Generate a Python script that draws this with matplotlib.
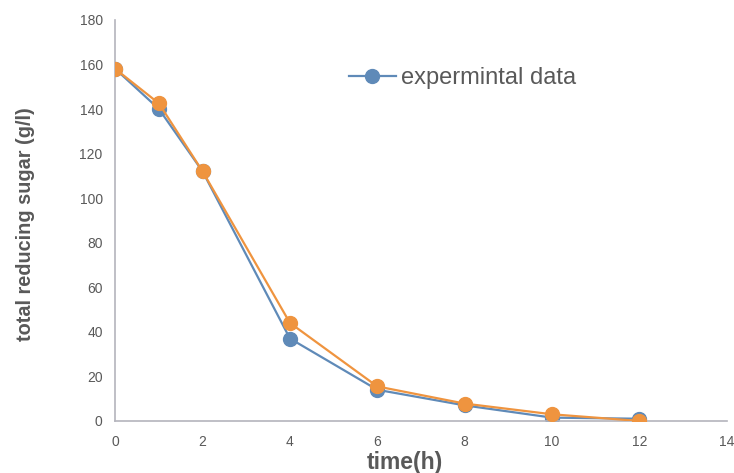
import matplotlib.pyplot as plt

time_h = [0, 1, 2, 4, 6, 8, 10, 12]
exp_sugar = [158, 140, 112, 37, 14, 7, 1.5, 1]
model_sugar = [158, 142.5, 112, 44, 15.5, 7.8, 3, 0]

plt.rcParams['font.family'] = ['Liberation Sans', 'DejaVu Sans']

fig = plt.figure(figsize=(7.34, 4.73), dpi=100)
ax = fig.add_axes([0.157, 0.110, 0.833, 0.848])

blue = '#5f8ab8'
orange = '#ef943f'
gray = '#595959'

ax.plot(time_h, exp_sugar, '-o', color=blue, lw=1.6, ms=10, label='expermintal data', zorder=2)
ax.plot(time_h, model_sugar, '-o', color=orange, lw=1.6, ms=10, zorder=3)

ax.set_xlim(0, 14)
ax.set_ylim(0, 180)
ax.set_xticks(range(0, 15, 2))
ax.set_yticks(range(0, 181, 20))
ax.tick_params(length=0, labelsize=10, colors=gray)
ax.tick_params(axis='y', pad=9)
ax.tick_params(axis='x', pad=10)
for s in ['top', 'right']:
    ax.spines[s].set_visible(False)
for s in ['left', 'bottom']:
    ax.spines[s].set_color('#b4b4bc')
    ax.spines[s].set_linewidth(1.2)

ax.set_xlabel('time(h)', fontsize=16.5, fontweight='bold', color=gray)
ax.xaxis.set_label_coords(0.474, -0.075)
ax.set_ylabel('total reducing sugar (g/l)', fontsize=14.3, fontweight='bold', color=gray)
ax.yaxis.set_label_coords(-0.131, 0.49)

leg = ax.legend(loc='upper left', bbox_to_anchor=(0.347, 0.935), frameon=False,
                fontsize=17, handlelength=2.0, labelcolor=gray, handletextpad=0.2)

fig.savefig('out.png', dpi=100)
